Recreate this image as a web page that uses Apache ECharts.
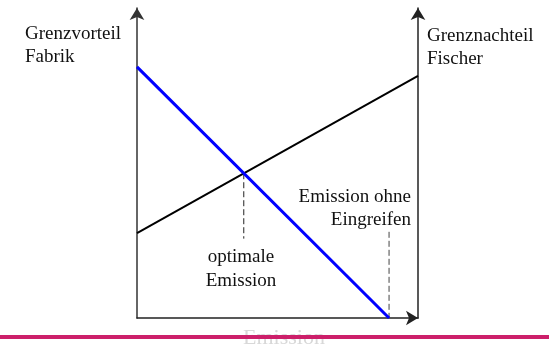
<!DOCTYPE html>
<html>
<head>
<meta charset="utf-8">
<script src="https://cdn.jsdelivr.net/npm/echarts@6/dist/echarts.min.js"></script>
<style>html,body{margin:0;padding:0;background:#fff;}#c{width:549px;height:347px;}</style>
</head>
<body>
<div id="c"></div>
<script>
// Data (abstract units: emission 0..100, value 0..100)
var benefitX = [0, 89.7];      // Grenzvorteil Fabrik (blue)
var benefitY = [81, 0];
var damageX = [0, 100];        // Grenznachteil Fischer (black)
var damageY = [27.4, 78.1];
var optimumX = [38, 38];       // optimale Emission (dashed)
var optimumY = [46.7, 25.6];
var noActionX = [89.7, 89.7];  // Emission ohne Eingreifen (dashed)
var noActionY = [27.8, 0];

function pairs(xs, ys) { return xs.map(function (x, i) { return [x, ys[i]]; }); }

var serif = '"Liberation Serif", "DejaVu Serif", serif';
function axisLine(color) {
  return { show: true, onZero: false, lineStyle: { color: color, width: 1.5 },
    symbol: ['none', 'arrow'], symbolSize: [11, 12], symbolOffset: [0, 0] };
}
var chart = echarts.init(document.getElementById('c'));
chart.setOption({
  animation: false,
  grid: { left: 137, right: 131, top: 8, bottom: 29 },
  xAxis: {
    type: 'value', min: 0, max: 100, axisLine: axisLine('#222'),
    axisTick: { show: false }, axisLabel: { show: false }, splitLine: { show: false }
  },
  yAxis: [{
    type: 'value', min: 0, max: 100, position: 'left', axisLine: axisLine('#333'),
    axisTick: { show: false }, axisLabel: { show: false }, splitLine: { show: false }
  }, {
    type: 'value', min: 0, max: 100, position: 'right', axisLine: axisLine('#222'),
    axisTick: { show: false }, axisLabel: { show: false }, splitLine: { show: false }
  }],
  series: [
    { type: 'line', data: pairs(benefitX, benefitY), showSymbol: false, silent: true,
      lineStyle: { color: '#0000ff', width: 3 }, z: 4 },
    { type: 'line', data: pairs(damageX, damageY), showSymbol: false, silent: true,
      lineStyle: { color: '#000', width: 2 }, z: 3 },
    { type: 'line', data: pairs(optimumX, optimumY), showSymbol: false, silent: true,
      lineStyle: { color: '#222', width: 1, type: [6, 3] }, z: 2 },
    { type: 'line', data: pairs(noActionX, noActionY), showSymbol: false, silent: true,
      lineStyle: { color: '#444', width: 1, type: [6, 3] }, z: 2 }
  ],
  graphic: [
    { type: 'text', z: 10, style: { text: 'Grenzvorteil\nFabrik', x: 25, y: 23, font: '19px ' + serif, fill: '#111', lineHeight: 23 } },
    { type: 'text', z: 10, style: { text: 'Grenznachteil\nFischer', x: 427, y: 25, font: '19px ' + serif, fill: '#111', lineHeight: 23 } },
    { type: 'text', z: 10, style: { text: 'Emission ohne\nEingreifen', x: 411, y: 186, textAlign: 'right', font: '19px ' + serif, fill: '#111', lineHeight: 23 } },
    { type: 'text', z: 10, style: { text: 'optimale\nEmission', x: 241, y: 245, textAlign: 'center', font: '19px ' + serif, fill: '#111', lineHeight: 24 } },
    { type: 'text', z: 1, style: { text: 'Emission', x: 284, y: 327, textAlign: 'center', font: '22px ' + serif, fill: '#d8d8d8' } },
    { type: 'rect', z: 5, shape: { x: 0, y: 335, width: 549, height: 4 }, style: { fill: '#cc1f6a' } }
  ]
});
</script>
</body>
</html>
